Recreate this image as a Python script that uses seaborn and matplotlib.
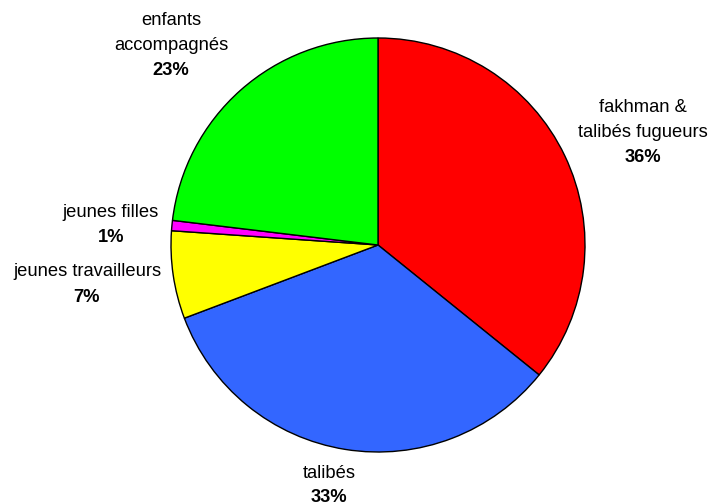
import matplotlib
matplotlib.use("Agg")
import matplotlib.pyplot as plt
import seaborn as sns

sns.set_theme(style="white")
plt.rcParams['font.family'] = ['Liberation Sans', 'DejaVu Sans']

# Data
categories = ["fakhman &\ntalibés fugueurs", "talibés", "jeunes travailleurs",
              "jeunes filles", "enfants\naccompagnés"]
values = [35.8, 33.45, 6.85, 0.8, 23.1]
pct_labels = ["36%", "33%", "7%", "1%", "23%"]
colors = ["#FF0000", "#3366FF", "#FFFF00", "#FF00FF", "#00FF00"]

# Layout (pixel coordinates, origin top-left)
W, H = 710, 503
center_px = (378, 245)
radius_px = 207
label_pos = [(643, 107), (329, 473), (87, 272), (111, 212), (171, 20)]
line_step = 25

fig = plt.figure(figsize=(W / 100, H / 100), dpi=100)
ax = fig.add_axes([0, 0, 1, 1])

ax.pie(values, colors=colors, startangle=90, counterclock=False,
       center=(center_px[0], H - center_px[1]), radius=radius_px,
       wedgeprops=dict(edgecolor='black', linewidth=1.0), frame=True)
ax.set_xlim(0, W)
ax.set_ylim(0, H)
ax.set_aspect('equal')
ax.axis('off')

for name, pct, (lx, ly) in zip(categories, pct_labels, label_pos):
    lines = name.split("\n")
    for i, ln in enumerate(lines):
        ax.text(lx, H - (ly + i * line_step), ln, ha='center', va='center',
                fontsize=13.2, color='black')
    ax.text(lx, H - (ly + len(lines) * line_step), pct, ha='center', va='center',
            fontsize=13.2, fontweight='bold', color='black')

fig.savefig("out.png", dpi=100)
